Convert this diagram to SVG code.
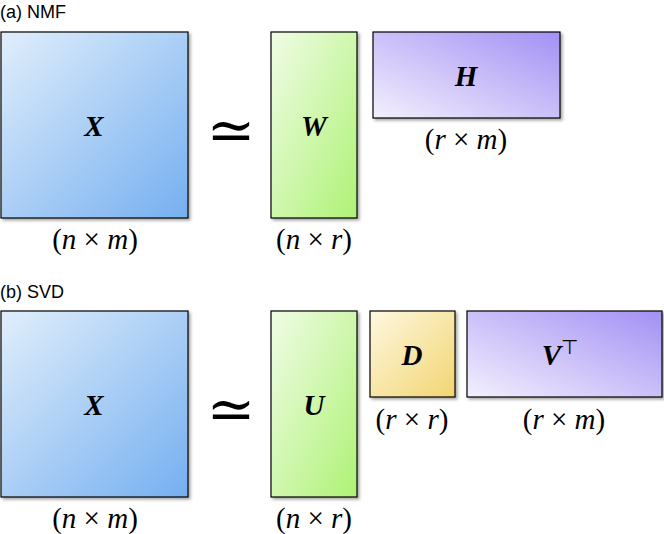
<svg xmlns="http://www.w3.org/2000/svg" width="664" height="534" viewBox="0 0 664 534">
<style>
.box{stroke:#000;stroke-width:1.2}
.lbl{font-family:"Liberation Serif",serif;font-size:29px;text-anchor:middle}
.m{font-family:"Liberation Serif",serif;font-size:29px;font-weight:bold;font-style:italic;text-anchor:middle}
.cap{font-family:"Liberation Sans",sans-serif;font-size:18px}
.sim{font-family:"DejaVu Serif",serif;font-size:58px;text-anchor:middle}
</style>
<defs>
<linearGradient id="gb" x1="0" y1="0" x2="1" y2="1"><stop offset="0" stop-color="#e0eefb"/><stop offset="1" stop-color="#75aff0"/></linearGradient>
<linearGradient id="gg" x1="0" y1="0" x2="1" y2="1"><stop offset="0" stop-color="#f0fce6"/><stop offset="1" stop-color="#aef275"/></linearGradient>
<linearGradient id="gp" x1="0" y1="1" x2="1" y2="0"><stop offset="0" stop-color="#f3f0fd"/><stop offset="1" stop-color="#a390f4"/></linearGradient>
<linearGradient id="gy" x1="0" y1="0" x2="1" y2="1"><stop offset="0" stop-color="#fdf8e0"/><stop offset="1" stop-color="#f2d572"/></linearGradient>
<filter id="sh" x="-10%" y="-10%" width="130%" height="130%"><feDropShadow dx="2" dy="2" stdDeviation="1.5" flood-opacity="0.35"/></filter>
</defs>
<text class="cap" x="0" y="18">(a) NMF</text>
<g id="X1"><rect class="box" x="1" y="32" width="187" height="186" fill="url(#gb)" filter="url(#sh)"/><text class="m" x="94" y="136">X</text><text class="lbl" x="95" y="249">(<tspan font-style="italic">n</tspan> × <tspan font-style="italic">m</tspan>)</text></g>
<text class="sim" x="231" y="150">≃</text>
<g id="W"><rect class="box" x="271" y="32" width="86" height="186" fill="url(#gg)" filter="url(#sh)"/><text class="m" x="314" y="136">W</text><text class="lbl" x="314" y="249">(<tspan font-style="italic">n</tspan> × <tspan font-style="italic">r</tspan>)</text></g>
<g id="H"><rect class="box" x="373" y="32" width="187" height="86" fill="url(#gp)" filter="url(#sh)"/><text class="m" x="466" y="86">H</text><text class="lbl" x="466" y="149">(<tspan font-style="italic">r</tspan> × <tspan font-style="italic">m</tspan>)</text></g>
<text class="cap" x="0" y="298">(b) SVD</text>
<g id="X2"><rect class="box" x="1" y="311" width="187" height="186" fill="url(#gb)" filter="url(#sh)"/><text class="m" x="94" y="415">X</text><text class="lbl" x="95" y="528">(<tspan font-style="italic">n</tspan> × <tspan font-style="italic">m</tspan>)</text></g>
<text class="sim" x="231" y="429">≃</text>
<g id="U"><rect class="box" x="271" y="311" width="86" height="186" fill="url(#gg)" filter="url(#sh)"/><text class="m" x="314" y="415">U</text><text class="lbl" x="314" y="528">(<tspan font-style="italic">n</tspan> × <tspan font-style="italic">r</tspan>)</text></g>
<g id="D"><rect class="box" x="370" y="311" width="85" height="86" fill="url(#gy)" filter="url(#sh)"/><text class="m" x="412" y="365">D</text><text class="lbl" x="412" y="429">(<tspan font-style="italic">r</tspan> × <tspan font-style="italic">r</tspan>)</text></g>
<g id="VT"><rect class="box" x="467" y="311" width="195" height="86" fill="url(#gp)" filter="url(#sh)"/><text class="m" x="560" y="365">V<tspan font-size="20" font-style="normal" font-weight="normal" dy="-11">⊤</tspan></text><text class="lbl" x="564" y="429">(<tspan font-style="italic">r</tspan> × <tspan font-style="italic">m</tspan>)</text></g>
<g id="connectors"/>
</svg>
